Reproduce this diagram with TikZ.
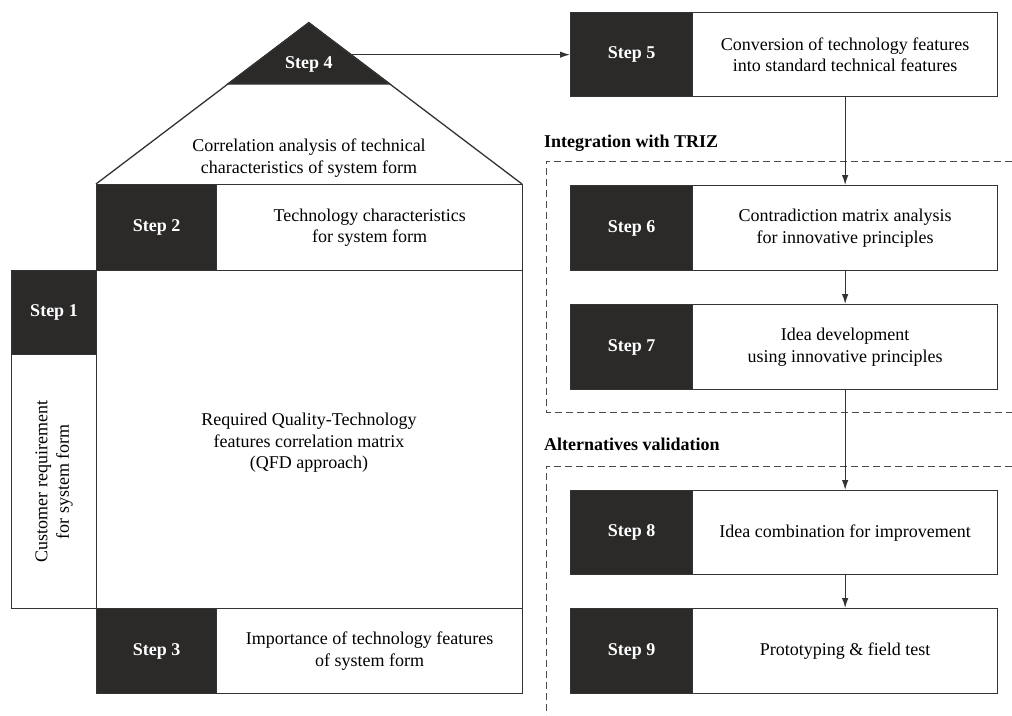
\documentclass[tikz,border=0pt]{standalone}
\usepackage{fontspec}
\setmainfont{Liberation Serif}
\usetikzlibrary{arrows.meta}
\definecolor{ink}{HTML}{2B2A29}
\definecolor{edge}{HTML}{333333}
\definecolor{dashgray}{HTML}{4A4A4A}
\newcommand\bodysize{\fontsize{18}{21.5}\selectfont}
\newcommand\stepsize{\fontsize{18}{21.5}\selectfont\bfseries}
\begin{document}
\begin{tikzpicture}[x=1pt,y=-1pt,
  darkbox/.style={draw=edge, fill=ink, line width=1.3pt, text=white,
    font=\stepsize, inner sep=0pt, anchor=north west},
  whitebox/.style={draw=edge, fill=white, line width=1.3pt, align=center,
    font=\bodysize, inner sep=0pt, anchor=north west},
  plaintext/.style={align=center, font=\bodysize, inner sep=0pt},
  grouplabel/.style={font=\stepsize, inner sep=0pt, anchor=base west},
  dashline/.style={draw=dashgray, line width=0.9pt, dash pattern=on 7pt off 4pt},
  arr/.style={draw=edge, line width=1.2pt, -{Latex[length=10pt,width=6.5pt]}}]

\useasboundingbox (0,0) rectangle (1012,715);

% ---- house of quality: roof ----
\coordinate (roofL) at (96,184);
\coordinate (roofR) at (522,184);
\coordinate (apex) at (308.8,22.7);
\draw[edge, line width=1.3pt] (roofL) -- (apex) -- (roofR);
\fill[ink, draw=edge, line width=1.3pt] (apex) -- (389.8,84) -- (227.8,84) -- cycle;
\node[font=\stepsize, text=white, inner sep=0pt] (s4) at (308.8,64) {Step 4};
\coordinate (s4e) at (350,54);
\node[plaintext] (roof) at (309,158)
  {Correlation analysis of technical\\characteristics of system form};

% ---- house of quality: body ----
\node[darkbox, minimum width=120, minimum height=86] (s2) at (96,184) {Step 2};
\node[whitebox, minimum width=306, minimum height=86] (t2) at (216,184)
  {Technology characteristics\\for system form};
\node[whitebox, minimum width=426, minimum height=338] (m) at (96,270) {};
\node[plaintext] (mt) at (309,443)
  {Required Quality-Technology\\features correlation matrix\\(QFD approach)};
\node[darkbox, minimum width=85.3, minimum height=84] (s1) at (10.7,270) {Step 1};
\node[whitebox, minimum width=85.3, minimum height=254] (c1) at (10.7,354) {};
\node[plaintext, rotate=90] (c1t) at (c1.center)
  {Customer requirement\\for system form};
\node[darkbox, minimum width=120, minimum height=85] (s3) at (96,608) {Step 3};
\node[whitebox, minimum width=306, minimum height=85] (t3) at (216,608)
  {Importance of technology features\\of system form};

% ---- group frames ----
\node[grouplabel] (g1) at (544,147) {Integration with TRIZ};
\node[grouplabel] (g2) at (544,450) {Alternatives validation};
\draw[dashline] (1012,161) -- (546,161) -- (546,412) -- (1012,412);
\draw[dashline] (1012,466) -- (546,466) -- (546,715);

% ---- right column steps ----
\node[darkbox, minimum width=122, minimum height=84] (s5) at (570,12) {Step 5};
\node[whitebox, minimum width=305, minimum height=84] (t5) at (692,12)
  {Conversion of technology features\\into standard technical features};
\node[darkbox, minimum width=122, minimum height=85] (s6) at (570,185) {Step 6};
\node[whitebox, minimum width=305, minimum height=85] (t6) at (692,185)
  {Contradiction matrix analysis\\for innovative principles};
\node[darkbox, minimum width=122, minimum height=85] (s7) at (570,304) {Step 7};
\node[whitebox, minimum width=305, minimum height=85] (t7) at (692,304)
  {Idea development\\using innovative principles};
\node[darkbox, minimum width=122, minimum height=84] (s8) at (570,490) {Step 8};
\node[whitebox, minimum width=305, minimum height=84] (t8) at (692,490)
  {Idea combination for improvement};
\node[darkbox, minimum width=122, minimum height=85] (s9) at (570,608) {Step 9};
\node[whitebox, minimum width=305, minimum height=85] (t9) at (692,608)
  {Prototyping \& field test};

% ---- connectors ----
\draw[arr] (s4e |- s5.west) -- (s5.west);
\draw[arr] (t5.south) -- (t6.north);
\draw[arr] (t6.south) -- (t7.north);
\draw[arr] (t7.south) -- (t8.north);
\draw[arr] (t8.south) -- (t9.north);
\end{tikzpicture}
\end{document}
